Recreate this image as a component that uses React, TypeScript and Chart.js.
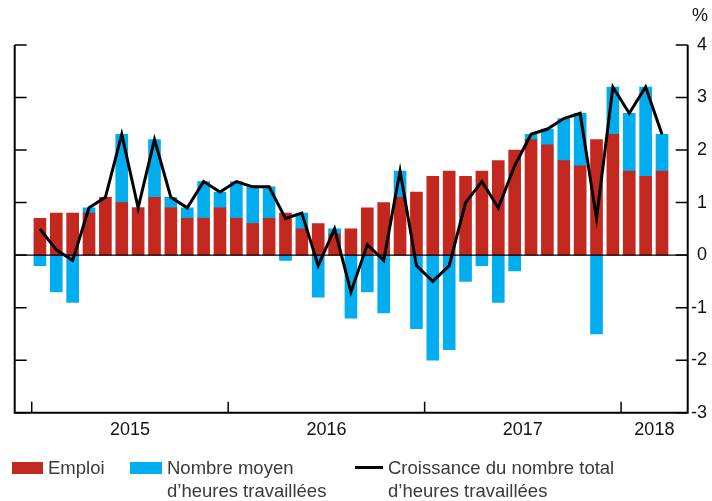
import React, { useEffect, useRef } from "react";
import { Chart, registerables } from "chart.js";

Chart.register(...registerables);

// Months: January 2015 to March 2018
const months = [
  "2015-01", "2015-02", "2015-03", "2015-04", "2015-05", "2015-06",
  "2015-07", "2015-08", "2015-09", "2015-10", "2015-11", "2015-12",
  "2016-01", "2016-02", "2016-03", "2016-04", "2016-05", "2016-06",
  "2016-07", "2016-08", "2016-09", "2016-10", "2016-11", "2016-12",
  "2017-01", "2017-02", "2017-03", "2017-04", "2017-05", "2017-06",
  "2017-07", "2017-08", "2017-09", "2017-10", "2017-11", "2017-12",
  "2018-01", "2018-02", "2018-03",
];

// Emploi (red)
const emploi = [
  0.7, 0.8, 0.8, 0.8, 1.1, 1.0, 0.9, 1.1, 0.9, 0.7, 0.7, 0.9,
  0.7, 0.6, 0.7, 0.8, 0.5, 0.6, 0.4, 0.5, 0.9, 1.0, 1.1, 1.2,
  1.5, 1.6, 1.5, 1.6, 1.8, 2.0, 2.2, 2.1, 1.8, 1.7, 2.2, 2.3,
  1.6, 1.5, 1.6,
];

// Nombre moyen d'heures travaillées (blue)
const heures = [
  -0.2, -0.7, -0.9, 0.1, 0.0, 1.3, 0.0, 1.1, 0.2, 0.2, 0.7, 0.3,
  0.7, 0.7, 0.6, -0.1, 0.3, -0.8, 0.1, -1.2, -0.7, -1.1, 0.5, -1.4,
  -2.0, -1.8, -0.5, -0.2, -0.9, -0.3, 0.1, 0.3, 0.8, 1.0, -1.5, 0.9,
  1.1, 1.7, 0.7,
];

// Croissance du nombre total d'heures travaillées (black line)
const total = [
  0.5, 0.1, -0.1, 0.9, 1.1, 2.3, 0.9, 2.2, 1.1, 0.9, 1.4, 1.2,
  1.4, 1.3, 1.3, 0.7, 0.8, -0.2, 0.5, -0.7, 0.2, -0.1, 1.6, -0.2,
  -0.5, -0.2, 1.0, 1.4, 0.9, 1.7, 2.3, 2.4, 2.6, 2.7, 0.7, 3.2,
  2.7, 3.2, 2.3,
];

const yTicks = [-3, -2, -1, 0, 1, 2, 3, 4];

const RED = "#C3281E";
const BLUE = "#00AEEF";
const FONT = "'Liberation Sans', Arial, Helvetica, sans-serif";
const X_MIN = -1.54;
const X_MAX = 39.57;

// year boundaries (between December and January) and label centres
const yearStarts = months
  .map((m, i) => (m.endsWith("-01") ? i : -1))
  .filter((i) => i >= 0);
const yearLabels = yearStarts.map((i) => months[i].slice(0, 4));
const yearBounds = yearStarts.map((i) => i - 0.5);
const yearCenters = yearBounds.map((b, k) =>
  k + 1 < yearBounds.length ? (b + yearBounds[k + 1]) / 2 : (b + X_MAX) / 2
);

const decor = {
  id: "decor",
  afterDatasetsDraw(chart: any) {
    const { ctx, chartArea, scales } = chart;
    const y0 = scales.y.getPixelForValue(0);
    ctx.save();
    ctx.strokeStyle = "#000";
    ctx.lineWidth = 1.3;
    ctx.beginPath();
    ctx.moveTo(chartArea.left, y0);
    ctx.lineTo(chartArea.right, y0);
    ctx.stroke();
    ctx.restore();
  },
  afterDraw(chart: any) {
    const { ctx, chartArea, scales } = chart;
    const { left, right, top, bottom } = chartArea;
    ctx.save();
    ctx.strokeStyle = "#000";
    // axis lines
    ctx.lineWidth = 2;
    ctx.beginPath();
    ctx.moveTo(left, top);
    ctx.lineTo(left, bottom);
    ctx.lineTo(right, bottom);
    ctx.lineTo(right, top);
    ctx.stroke();
    // inward y ticks on both sides
    ctx.lineWidth = 1.5;
    yTicks.forEach((v) => {
      const py = scales.y.getPixelForValue(v);
      ctx.beginPath();
      ctx.moveTo(left, py);
      ctx.lineTo(left + 12, py);
      ctx.moveTo(right - 12, py);
      ctx.lineTo(right, py);
      ctx.stroke();
    });
    // inward year ticks
    yearBounds.forEach((b) => {
      const px = scales.x.getPixelForValue(b);
      ctx.beginPath();
      ctx.moveTo(px, bottom);
      ctx.lineTo(px, bottom - 11);
      ctx.stroke();
    });
    // unit
    ctx.fillStyle = "#111";
    ctx.font = `18px ${FONT}`;
    ctx.textAlign = "right";
    ctx.textBaseline = "middle";
    ctx.fillText("%", 708, 16);
    ctx.restore();
  },
};

export default function App() {
  const ref = useRef<HTMLCanvasElement | null>(null);

  useEffect(() => {
    if (!ref.current) return;
    const chart = new Chart(ref.current, {
      type: "bar",
      data: {
        datasets: [
          {
            type: "line",
            label: "Croissance du nombre total d'heures travaillées",
            data: total.map((v, i) => ({ x: i, y: v })),
            borderColor: "#000",
            backgroundColor: "#000",
            borderWidth: 3,
            pointRadius: 0,
            fill: false,
            tension: 0,
            order: 0,
            stack: "line",
          } as any,
          {
            label: "Emploi",
            data: emploi.map((v, i) => ({ x: i, y: v })),
            backgroundColor: RED,
            barThickness: 12,
            order: 1,
            stack: "bars",
          },
          {
            label: "Nombre moyen d'heures travaillées",
            data: heures.map((v, i) => ({ x: i, y: v })),
            backgroundColor: BLUE,
            barThickness: 12,
            order: 2,
            stack: "bars",
          },
        ],
      },
      options: {
        animation: false,
        responsive: false,
        layout: { padding: { top: 45, left: 14.7, right: 5, bottom: 0 } },
        plugins: { legend: { display: false }, tooltip: { enabled: false } },
        scales: {
          x: {
            type: "linear",
            min: X_MIN,
            max: X_MAX,
            stacked: true,
            offset: false,
            grid: { display: false, drawTicks: false },
            border: { display: false },
            afterBuildTicks: (axis: any) => {
              axis.ticks = yearCenters.map((v) => ({ value: v }));
            },
            afterFit: (axis: any) => {
              axis.height = 88.3;
            },
            ticks: {
              autoSkip: false,
              maxRotation: 0,
              padding: 7,
              color: "#111",
              font: { family: FONT, size: 18 },
              callback: (_v: any, idx: number) => yearLabels[idx],
            },
          },
          y: {
            position: "right",
            min: -3,
            max: 4,
            stacked: true,
            grid: { display: false, drawTicks: false },
            border: { display: false },
            afterFit: (axis: any) => {
              axis.width = 19.3;
            },
            ticks: {
              stepSize: 1,
              crossAlign: "far",
              padding: 3,
              color: "#111",
              font: { family: FONT, size: 18 },
            },
          },
        },
      } as any,
      plugins: [decor],
    });
    return () => chart.destroy();
  }, []);

  const textStyle: React.CSSProperties = {
    position: "absolute",
    top: 456,
    fontFamily: FONT,
    fontSize: 18.5,
    lineHeight: "23px",
    color: "#3a3a3a",
    whiteSpace: "nowrap",
  };

  return (
    <div style={{ position: "absolute", left: 0, top: 0, width: 712, height: 501 }}>
      <canvas ref={ref} width={712} height={501} style={{ display: "block", width: 712, height: 501 }} />
      <div style={{ position: "absolute", left: 12, top: 462, width: 31, height: 12, background: RED }} />
      <div style={{ ...textStyle, left: 48 }}>Emploi</div>
      <div style={{ position: "absolute", left: 130, top: 462, width: 31.5, height: 12, background: BLUE }} />
      <div style={{ ...textStyle, left: 167 }}>
        Nombre moyen
        <br />
        d’heures travaillées
      </div>
      <div style={{ position: "absolute", left: 355, top: 466, width: 28, height: 3, background: "#000" }} />
      <div style={{ ...textStyle, left: 388 }}>
        Croissance du nombre total
        <br />
        d’heures travaillées
      </div>
    </div>
  );
}
